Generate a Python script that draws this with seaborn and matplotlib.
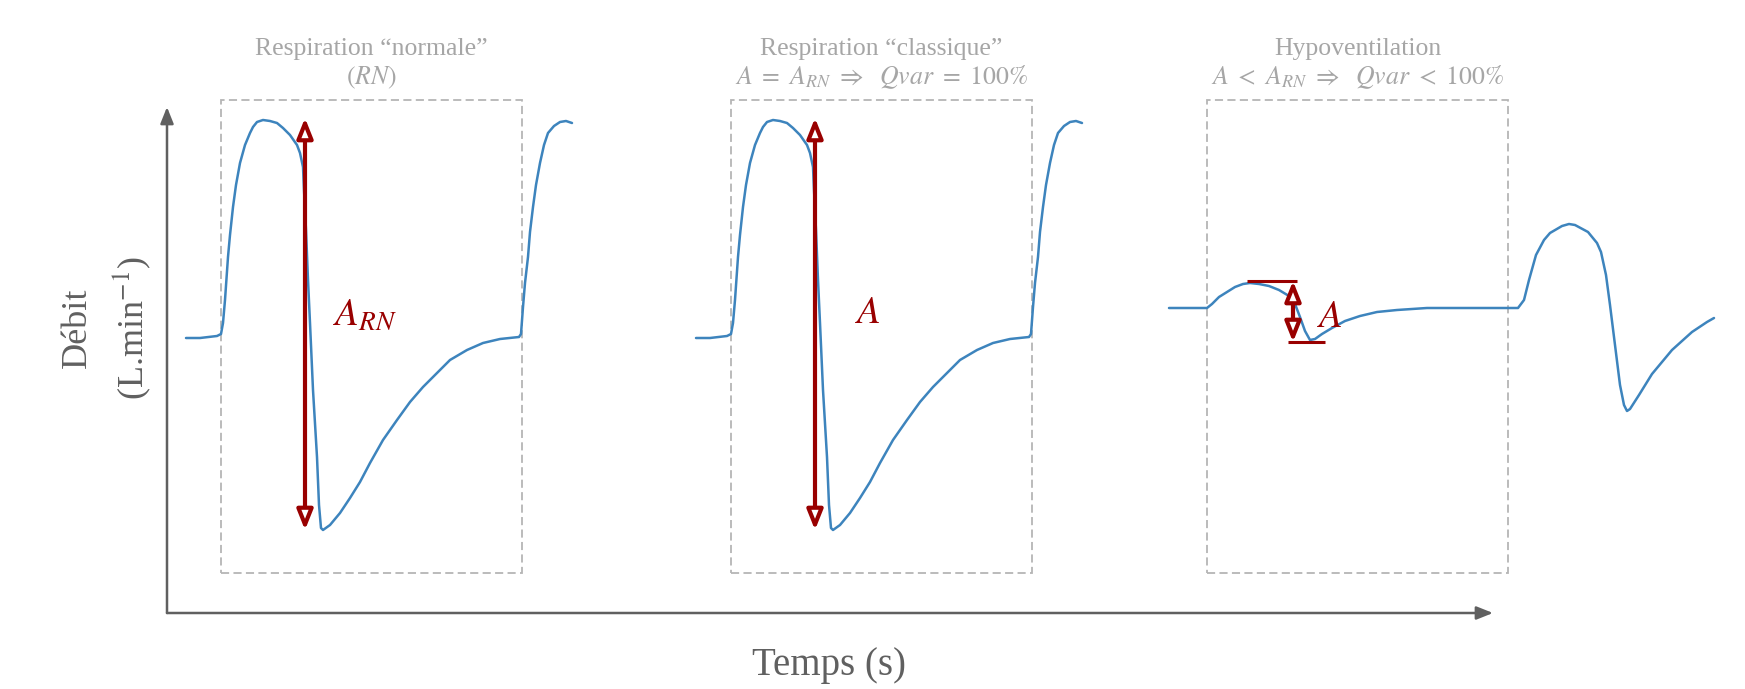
import numpy as np
import pandas as pd
import matplotlib
matplotlib.use('Agg')
import matplotlib.pyplot as plt
import seaborn as sns
from matplotlib.patches import Rectangle

# ------------------------------------------------ data ------------------------------------------------
# one normal breathing cycle (time in s, flow in arbitrary L/min units, baseline = 0)
cycle_t = [0.19, 0.33, 0.50, 0.54, 0.56, 0.58, 0.61, 0.63, 0.66, 0.69, 0.73, 0.78, 0.83, 0.86,
           0.90, 0.96, 1.03, 1.10, 1.16, 1.23, 1.30, 1.33, 1.36, 1.37, 1.39, 1.41, 1.43, 1.46,
           1.50, 1.52, 1.54, 1.56, 1.63, 1.73, 1.83, 1.93, 2.03, 2.16, 2.30, 2.43, 2.56, 2.70,
           2.83, 3.00, 3.16, 3.33, 3.52, 3.54, 3.56, 3.58, 3.61, 3.63, 3.66, 3.69, 3.73, 3.77,
           3.81, 3.87, 3.93, 3.99, 4.05]
cycle_q = [-0.01, -0.01, 0.01, 0.03, 0.14, 0.37, 0.80, 1.02, 1.30, 1.52, 1.74, 1.92, 2.04, 2.10,
           2.15, 2.17, 2.16, 2.14, 2.09, 2.02, 1.92, 1.84, 1.70, 1.47, 1.07, 0.57, 0.14, -0.53,
           -1.20, -1.68, -1.91, -1.93, -1.88, -1.76, -1.61, -1.45, -1.26, -1.03, -0.83, -0.65, -0.50, -0.36,
           -0.23, -0.13, -0.06, -0.02, 0.00, 0.03, 0.30, 0.54, 0.80, 1.05, 1.30, 1.52, 1.74, 1.92,
           2.04, 2.11, 2.15, 2.16, 2.14]
cycle_shift = [0.0, 5.10]   # the "classique" panel repeats the same trace

# hypoventilation trace
hypo_t = [10.02, 10.23, 10.40, 10.45, 10.52, 10.60, 10.68, 10.76, 10.83, 10.92, 11.02, 11.12,
          11.22, 11.28, 11.33, 11.38, 11.43, 11.48, 11.55, 11.65, 11.78, 11.93, 12.10, 12.30,
          12.60, 13.00, 13.51, 13.57, 13.62, 13.69, 13.77, 13.83, 13.95, 14.02, 14.08, 14.21,
          14.30, 14.34, 14.39, 14.43, 14.48, 14.53, 14.57, 14.60, 14.63, 14.72, 14.85, 15.05,
          15.25, 15.40, 15.47]
hypo_q = [0.29, 0.29, 0.29, 0.33, 0.40, 0.45, 0.50, 0.53, 0.54, 0.53, 0.51, 0.47,
          0.41, 0.33, 0.20, 0.06, -0.03, -0.02, 0.03, 0.09, 0.16, 0.21, 0.25, 0.27,
          0.29, 0.29, 0.29, 0.37, 0.57, 0.82, 0.97, 1.04, 1.11, 1.13, 1.12, 1.05,
          0.94, 0.85, 0.62, 0.32, -0.08, -0.48, -0.68, -0.74, -0.72, -0.58, -0.37, -0.13,
          0.05, 0.15, 0.19]

# amplitude arrows (time, top, bottom)
amp_t = [1.38, 6.48, 11.26]
amp_top = [2.19, 2.19, 0.56]
amp_bot = [-1.93, -1.93, -0.05]

# dashed windows (start, end)
win_start = [0.54, 5.64, 10.40]
win_end = [3.55, 8.65, 13.41]
win_low, win_high = -2.36, 2.37

titles_1 = ['Respiration “normale”', 'Respiration “classique”', 'Hypoventilation']
titles_2 = [r'$(\mathit{RN})$',
            r'$\mathit{A}\ =\ \mathit{A}_{\mathit{RN}}\ \Rightarrow\ \ \mathit{Qvar}\ =\ \mathit{100\%}$',
            r'$\mathit{A}\ <\ \mathit{A}_{\mathit{RN}}\ \Rightarrow\ \ \mathit{Qvar}\ <\ \mathit{100\%}$']
amp_labels = [r'$\mathit{A_{RN}}$', r'$\mathit{A}$', r'$\mathit{A}$']
amp_label_t = [1.66, 6.88, 11.50]
amp_label_q = [0.12, 0.14, 0.10]

BLUE = '#3d84bd'
RED = '#990000'
GREY_TXT = '#a6a6a6'
AXIS = '#606060'
BOX = '#b5b5b5'

# ------------------------------------------------ build the table ------------------------------------------------
rows = []
for i, s in enumerate(cycle_shift):
    for t, q in zip(cycle_t, cycle_q):
        rows.append({'t': t + s, 'q': q, 'trace': i})
for t, q in zip(hypo_t, hypo_q):
    rows.append({'t': t, 'q': q, 'trace': 2})
df = pd.DataFrame(rows)

# ------------------------------------------------ plot ------------------------------------------------
sns.set_theme(style='white')
plt.rcParams['font.family'] = ['Liberation Serif', 'DejaVu Serif']
plt.rcParams['mathtext.fontset'] = 'stix'

fig = plt.figure(figsize=(17.45, 6.89), dpi=100)
ax = fig.add_axes([0, 0, 1, 1])

sns.lineplot(data=df, x='t', y='q', units='trace', estimator=None, sort=False,
             color=BLUE, lw=1.8, ax=ax, legend=False)

# axes drawn as arrows
origin_t, origin_q = 0.0, -2.76
ax.annotate('', xy=(origin_t, 2.30), xytext=(origin_t, origin_q),
            arrowprops=dict(arrowstyle='-|>,head_length=0.55,head_width=0.22', mutation_scale=18,
                            lw=1.8, color=AXIS, shrinkA=0, shrinkB=0))
ax.annotate('', xy=(13.26, origin_q), xytext=(origin_t, origin_q),
            arrowprops=dict(arrowstyle='-|>,head_length=0.55,head_width=0.22', mutation_scale=18,
                            lw=1.8, color=AXIS, shrinkA=0, shrinkB=0))

# dashed windows + titles
for a, b, l1, l2 in zip(win_start, win_end, titles_1, titles_2):
    ax.add_patch(Rectangle((a, win_low), b - a, win_high - win_low, fill=False,
                           ec=BOX, lw=1.3, ls=(0, (4.5, 2.4))))
    ax.text((a + b) / 2, 2.82, l1, ha='center', va='baseline', fontsize=18.5, color=GREY_TXT)
    ax.text((a + b) / 2, 2.53, l2, ha='center', va='baseline', fontsize=18.5, color=GREY_TXT)

# amplitude arrows
for x, top, bot in zip(amp_t, amp_top, amp_bot):
    ax.annotate('', xy=(x, top), xytext=(x, bot),
                arrowprops=dict(arrowstyle='<|-|>,head_length=0.6,head_width=0.24', mutation_scale=20,
                                lw=3, ec=RED, fc='white', shrinkA=0, shrinkB=0))
ax.hlines(amp_top[2], 10.80, 11.30, color=RED, lw=2.2)
ax.hlines(amp_bot[2], 11.21, 11.58, color=RED, lw=2.2)

for x, y, lab in zip(amp_label_t, amp_label_q, amp_labels):
    ax.text(x, y, lab, ha='left', va='baseline', fontsize=28, color=RED)

# axis labels
ax.text(-0.60, 0.09, 'Débit\n(L.min$^{-1}$)', rotation=90, ha='center', va='center',
        fontsize=26, color=AXIS, linespacing=1.5, multialignment='center')
ax.text(6.62, -3.29, 'Temps (s)', ha='center', va='center', fontsize=28, color=AXIS)

ax.set_xlim(-1.67, 15.78)
ax.set_ylim(-3.52, 3.37)
ax.axis('off')

fig.savefig('out.png', dpi=100)
